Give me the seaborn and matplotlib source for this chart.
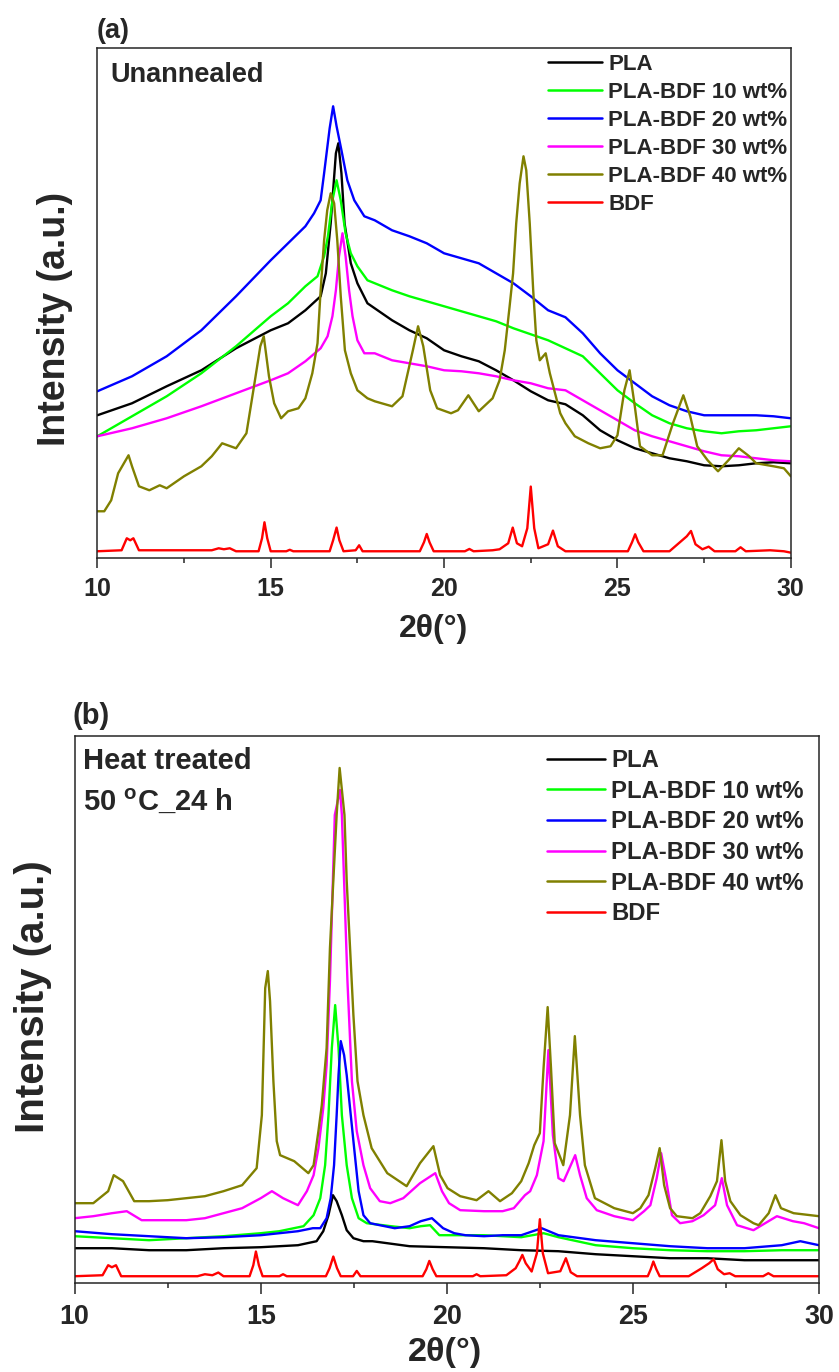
import pandas as pd
import matplotlib.pyplot as plt
import seaborn as sns
from matplotlib.ticker import MultipleLocator

# -----------------------------
# Data: (2theta in deg, intensity in a.u.)
# -----------------------------
labels = ["PLA", "PLA-BDF 10 wt%", "PLA-BDF 20 wt%", "PLA-BDF 30 wt%", "PLA-BDF 40 wt%", "BDF"]
colors = ["#000000", "#00ff00", "#0000ff", "#ff00ff", "#808000", "#ff0000"]

# (a) unannealed
a_pla = [(10, 143), (11, 155), (12, 172), (13, 188), (14, 210), (15, 228), (15.5, 235), (16, 248),
         (16.44, 262), (16.59, 285), (16.73, 335), (16.88, 405), (16.95, 415), (17.04, 385), (17.13, 335),
         (17.31, 295), (17.5, 275), (17.79, 255), (18.5, 238), (19, 228), (19.5, 220), (20, 208),
         (20.5, 202), (21, 197), (21.5, 188), (22, 178), (22.5, 167), (23, 158), (23.5, 154), (24, 143),
         (24.5, 128), (25, 118), (25.5, 110), (26, 105), (26.5, 100), (27, 97), (27.5, 93), (28, 92),
         (28.5, 93), (29, 95), (29.5, 96), (30, 95)]
a_10 = [(10, 122), (10.5, 132), (11, 142), (12, 162), (13, 185), (14, 212), (15, 242), (15.5, 255),
        (16, 272), (16.35, 282), (16.54, 302), (16.65, 322), (16.78, 358), (16.9, 378), (17.02, 358),
        (17.16, 325), (17.31, 305), (17.5, 292), (17.79, 278), (18.5, 268), (19, 262), (19.5, 257),
        (20, 252), (20.5, 247), (21, 242), (21.5, 237), (22, 230), (22.5, 224), (23, 218), (23.5, 210),
        (24, 202), (24.5, 185), (25, 168), (25.5, 155), (26, 143), (26.5, 135), (27, 130), (27.5, 127),
        (28, 125), (28.5, 127), (29, 128), (29.5, 130), (30, 132)]
a_20 = [(10, 167), (11, 182), (12, 202), (13, 228), (14, 262), (15, 298), (15.5, 315), (16, 332),
        (16.25, 345), (16.44, 358), (16.54, 385), (16.7, 430), (16.8, 452), (16.9, 432), (17.04, 408),
        (17.21, 378), (17.41, 358), (17.7, 342), (18, 338), (18.5, 328), (19, 322), (19.5, 315),
        (20, 305), (20.5, 300), (21, 295), (21.5, 285), (22, 275), (22.5, 262), (23, 248), (23.5, 241),
        (24, 225), (24.5, 205), (25, 188), (25.5, 175), (26, 162), (26.5, 153), (27, 147), (27.5, 143),
        (28, 143), (28.5, 143), (29, 143), (29.5, 142), (30, 140)]
a_30 = [(10, 122), (11, 130), (12, 140), (13, 152), (14, 165), (15, 178), (15.5, 185), (16, 197),
        (16.44, 210), (16.64, 222), (16.78, 242), (16.88, 268), (16.97, 302), (17.07, 325), (17.16, 302),
        (17.26, 268), (17.36, 242), (17.5, 218), (17.7, 205), (18, 205), (18.5, 198), (19, 195),
        (19.5, 192), (20, 188), (20.5, 187), (21, 185), (21.5, 182), (22, 178), (22.5, 175), (23, 170),
        (23.5, 168), (24, 158), (24.5, 148), (25, 138), (25.5, 128), (26, 122), (26.5, 117), (27, 112),
        (27.5, 107), (28, 103), (28.5, 102), (29, 100), (29.5, 98), (30, 97)]
a_40 = [(10, 47), (10.2, 47), (10.4, 58), (10.6, 85), (10.8, 97), (10.9, 103), (11.0, 92), (11.2, 72),
        (11.5, 68), (11.8, 73), (12.0, 70), (12.5, 82), (13.0, 92), (13.3, 102), (13.6, 115), (14.0, 110),
        (14.3, 125), (14.5, 168), (14.7, 212), (14.8, 222), (14.95, 182), (15.1, 155), (15.3, 140),
        (15.5, 147), (15.8, 150), (16.0, 160), (16.2, 185), (16.35, 215), (16.44, 268), (16.54, 318),
        (16.63, 348), (16.73, 365), (16.83, 355), (16.92, 318), (17.02, 262), (17.14, 208), (17.31, 185),
        (17.5, 168), (17.79, 160), (18.0, 157), (18.5, 152), (18.8, 162), (19.1, 208), (19.25, 232),
        (19.4, 212), (19.6, 168), (19.8, 150), (20.2, 145), (20.4, 148), (20.7, 163), (21.0, 147),
        (21.4, 160), (21.6, 178), (21.75, 208), (21.89, 252), (21.99, 285), (22.08, 335), (22.18, 375),
        (22.29, 402), (22.37, 388), (22.47, 335), (22.57, 268), (22.66, 218), (22.76, 198), (22.93, 205),
        (23.05, 185), (23.2, 165), (23.35, 145), (23.5, 135), (23.77, 122), (24.16, 115), (24.5, 110),
        (24.8, 112), (25.0, 123), (25.2, 168), (25.35, 188), (25.5, 152), (25.65, 112), (26.0, 103),
        (26.3, 103), (26.6, 135), (26.9, 163), (27.1, 142), (27.3, 112), (27.6, 98), (27.9, 87),
        (28.2, 98), (28.5, 110), (28.8, 102), (29.0, 95), (29.5, 92), (29.8, 90), (30.0, 82)]
a_bdf = [(10, 7), (10.7, 8), (10.85, 20), (10.95, 18), (11.04, 20), (11.2, 8), (13.3, 8), (13.5, 10),
         (13.65, 9), (13.82, 10), (14.0, 7), (14.65, 7), (14.75, 20), (14.82, 36), (14.9, 20), (15.0, 7),
         (15.45, 7), (15.55, 8.5), (15.65, 7), (16.7, 7), (16.8, 18), (16.9, 30.7), (16.98, 18),
         (17.1, 7), (17.45, 8), (17.55, 13), (17.65, 7), (19.3, 7), (19.42, 16), (19.5, 24.3),
         (19.58, 16), (19.7, 7), (20.6, 7), (20.73, 9.3), (20.85, 7), (21.4, 8), (21.6, 9), (21.85, 15),
         (21.98, 30.7), (22.1, 15), (22.25, 12), (22.4, 30), (22.5, 71.7), (22.6, 30), (22.72, 10),
         (23.0, 14), (23.14, 27.7), (23.28, 12), (23.5, 7), (25.3, 7), (25.42, 16), (25.51, 24),
         (25.6, 16), (25.75, 7), (26.5, 7), (26.8, 16), (27.0, 22), (27.12, 27.3), (27.25, 14),
         (27.45, 9), (27.63, 11.6), (27.8, 7), (28.4, 7), (28.55, 11), (28.7, 7), (29.4, 8), (29.8, 7),
         (30, 5.6)]

# (b) heat treated 50 C, 24 h
b_pla = [(10, 35), (11, 35), (12, 33), (13, 33), (14, 35), (15, 36), (16, 38), (16.5, 42), (16.68, 52),
         (16.82, 68), (16.94, 88), (17.04, 82), (17.18, 68), (17.31, 53), (17.49, 45), (17.76, 42),
         (18, 42), (19, 37), (20, 36), (21, 35), (22, 33), (23, 32), (24, 29), (25, 27), (26, 25),
         (27, 25), (28, 23), (29, 23), (30, 23)]
b_10 = [(10, 47), (11, 45), (12, 43), (13, 45), (14, 47), (15, 50), (15.5, 52), (16.15, 57), (16.42, 68),
        (16.6, 85), (16.73, 118), (16.82, 168), (16.91, 235), (17.0, 278), (17.09, 235), (17.18, 168),
        (17.31, 118), (17.45, 85), (17.63, 65), (17.85, 60), (18.5, 57), (19, 55), (19.3, 57),
        (19.55, 58), (19.8, 48), (20, 48), (21, 48), (22, 46), (22.6, 50), (23, 46), (24, 38), (25, 35),
        (26, 33), (27, 32), (28, 32), (29, 33), (30, 33)]
b_20 = [(10, 52), (11, 49), (12, 47), (13, 45), (14, 46), (15, 48), (15.5, 50), (16, 52), (16.4, 55),
        (16.6, 55), (16.77, 65), (16.88, 85), (16.97, 118), (17.04, 168), (17.09, 208), (17.15, 242),
        (17.24, 228), (17.31, 208), (17.4, 175), (17.51, 135), (17.63, 92), (17.76, 68), (17.94, 60),
        (18.2, 58), (18.6, 55), (19, 57), (19.3, 62), (19.6, 65), (19.9, 55), (20.2, 50), (20.5, 48),
        (21, 47), (21.5, 48), (22, 48), (22.55, 55), (23, 48), (24, 43), (25, 40), (26, 37), (27, 35),
        (28, 35), (29, 38), (29.5, 42), (30, 38)]
b_30 = [(10, 65), (10.5, 67), (11.0, 70), (11.4, 72), (11.8, 63), (12.5, 63), (13, 63), (13.5, 65),
        (14, 70), (14.5, 75), (15, 85), (15.3, 92), (15.6, 85), (16, 78), (16.24, 92), (16.42, 108),
        (16.55, 135), (16.68, 175), (16.77, 218), (16.86, 302), (16.99, 468), (17.13, 493), (17.18, 468),
        (17.24, 402), (17.33, 302), (17.45, 202), (17.58, 152), (17.76, 118), (17.94, 95), (18.2, 82),
        (18.48, 80), (18.83, 85), (19.28, 100), (19.69, 110), (19.87, 92), (20.06, 80), (20.36, 73),
        (21, 72), (21.5, 72), (21.8, 75), (22.1, 88), (22.24, 92), (22.42, 108), (22.6, 142),
        (22.73, 233), (22.85, 148), (23.0, 105), (23.14, 102), (23.45, 128), (23.58, 108), (23.76, 85),
        (24.03, 73), (24.5, 67), (25, 63), (25.3, 72), (25.47, 78), (25.64, 105), (25.76, 130),
        (25.9, 102), (26.05, 68), (26.27, 60), (26.6, 62), (26.9, 68), (27.21, 78), (27.39, 105),
        (27.53, 78), (27.8, 58), (28.24, 53), (28.87, 67), (29.3, 62), (29.6, 60), (30, 55)]
b_40 = [(10, 80), (10.5, 80), (10.9, 92), (11.05, 108), (11.3, 102), (11.6, 82), (12, 82), (12.5, 83),
        (13, 85), (13.5, 87), (14, 92), (14.5, 98), (14.89, 115), (15.03, 168), (15.12, 295),
        (15.19, 312), (15.25, 282), (15.34, 202), (15.43, 142), (15.52, 128), (15.9, 122), (16.28, 110),
        (16.42, 118), (16.55, 152), (16.64, 178), (16.77, 235), (16.86, 335), (16.95, 402), (17.04, 468),
        (17.12, 515), (17.25, 468), (17.31, 402), (17.4, 335), (17.49, 268), (17.6, 202), (17.76, 168),
        (17.98, 135), (18.4, 110), (18.92, 97), (19.28, 120), (19.64, 137), (19.82, 108), (20.02, 95),
        (20.36, 87), (20.8, 83), (21.12, 92), (21.43, 82), (21.75, 90), (22.0, 102), (22.2, 120),
        (22.35, 138), (22.5, 150), (22.6, 215), (22.71, 276), (22.8, 215), (22.9, 140), (23.13, 118),
        (23.31, 168), (23.44, 247), (23.58, 168), (23.71, 118), (23.98, 85), (24.5, 75), (25.0, 70),
        (25.2, 75), (25.42, 88), (25.6, 115), (25.72, 135), (25.84, 98), (26.0, 75), (26.18, 67),
        (26.6, 65), (26.81, 70), (27.08, 87), (27.26, 102), (27.38, 143), (27.48, 102), (27.62, 82),
        (27.89, 68), (28.24, 60), (28.38, 58), (28.65, 70), (28.83, 88), (28.98, 75), (29.32, 70),
        (30, 67)]
b_bdf = [(10, 7), (10.75, 8), (10.9, 18), (11.0, 16), (11.11, 18), (11.25, 7), (13.3, 7), (13.5, 9),
         (13.7, 8), (13.86, 10.7), (14.0, 7), (14.7, 7), (14.8, 18), (14.87, 31.7), (14.95, 18),
         (15.05, 7), (15.5, 7), (15.6, 9), (15.7, 7), (16.75, 7), (16.85, 15), (16.95, 26.7), (17.05, 15),
         (17.15, 7), (17.48, 7), (17.58, 12.3), (17.68, 7), (19.35, 7), (19.45, 14), (19.53, 22.3),
         (19.62, 14), (19.72, 7), (20.7, 7), (20.8, 9), (20.9, 7), (21.6, 8), (21.85, 15), (21.95, 22),
         (22.03, 28.3), (22.12, 20), (22.28, 11.7), (22.42, 30), (22.5, 64), (22.58, 30), (22.72, 10),
         (23.05, 12), (23.2, 25), (23.33, 11), (23.5, 7), (25.4, 7), (25.48, 14), (25.55, 21.7),
         (25.63, 14), (25.72, 7), (26.5, 7), (26.85, 15), (27.05, 20), (27.17, 24), (27.28, 14),
         (27.45, 9), (27.6, 10), (27.75, 7), (28.5, 7), (28.64, 10), (28.78, 7), (30, 7)]

panels = [
    dict(series=[a_pla, a_10, a_20, a_30, a_40, a_bdf], rect=[0.1160, 0.5931, 0.8266, 0.3717],
         ylim=510, s=1.0, tag="(a)", note=["Unannealed"]),
    dict(series=[b_pla, b_10, b_20, b_30, b_40, b_bdf], rect=[0.0890, 0.0647, 0.8871, 0.3989],
         ylim=547, s=1.074, tag="(b)", note=["Heat treated", "50 $^{\\mathbf{o}}$C_24 h"]),
]

# -----------------------------
# Style
# -----------------------------
sns.set_style("ticks")
plt.rcParams["font.family"] = ["Liberation Sans", "DejaVu Sans"]
plt.rcParams["font.weight"] = "bold"
plt.rcParams["mathtext.fontset"] = "custom"
plt.rcParams["mathtext.rm"] = "Liberation Sans:bold"
plt.rcParams["mathtext.bf"] = "Liberation Sans:bold"

W, H = 839, 1372
fig = plt.figure(figsize=(W / 100, H / 100), dpi=100)

# pixel positions of the text pieces, per panel
text_px = [
    dict(tag=(97, 37.5), note=[(110, 82)], ylab=(55, 318.5), xlab=(433, 629), leg=(548, 53.5)),
    dict(tag=(72.7, 724), note=[(82.7, 769.5), (82.7, 810)], ylab=(33, 997), xlab=(445, 1352), leg=(547, 749)),
]

for p, tp in zip(panels, text_px):
    s = p["s"]
    ax = fig.add_axes(p["rect"])
    frames = []
    for lab, pts in zip(labels, p["series"]):
        d = pd.DataFrame(pts, columns=["two_theta", "intensity"])
        d["sample"] = lab
        frames.append(d)
    df = pd.concat(frames, ignore_index=True)
    sns.lineplot(data=df, x="two_theta", y="intensity", hue="sample", hue_order=labels,
                 palette=colors, estimator=None, linewidth=1.7, ax=ax)

    ax.set_xlim(10, 30)
    ax.set_ylim(0, p["ylim"])
    ax.set_yticks([])
    ax.set_xticks([10, 15, 20, 25, 30])
    ax.xaxis.set_minor_locator(MultipleLocator(2.5))
    ax.tick_params(axis="x", which="major", direction="out", length=7.2 * s, width=1.1,
                   labelsize=18 * s, pad=6.5 * s)
    ax.tick_params(axis="x", which="minor", direction="out", length=3.6 * s, width=1.1)
    for lbl in ax.get_xticklabels():
        lbl.set_fontweight("bold")
    for sp in ax.spines.values():
        sp.set_linewidth(1.1)
        sp.set_visible(True)
    ax.set_xlabel("")
    ax.set_ylabel("")

    handles, labs = ax.get_legend_handles_labels()
    leg = ax.legend(handles, labs, loc="upper left", frameon=False,
                    bbox_to_anchor=(tp["leg"][0] / W, 1 - tp["leg"][1] / H), bbox_transform=fig.transFigure,
                    borderpad=0, borderaxespad=0, handlelength=2.43, handletextpad=0.27,
                    labelspacing=0.32, prop=dict(size=16 * s, weight="bold"))
    for ln in leg.get_lines():
        ln.set_linewidth(1.8)

    fig.text(tp["tag"][0] / W, 1 - tp["tag"][1] / H, p["tag"], fontsize=19.5 * s,
             fontweight="bold", ha="left", va="baseline")
    for txt, pos in zip(p["note"], tp["note"]):
        fig.text(pos[0] / W, 1 - pos[1] / H, txt, fontsize=19.5 * s, fontweight="bold",
                 ha="left", va="baseline")
    fig.text(tp["ylab"][0] / W, 1 - tp["ylab"][1] / H, "Intensity (a.u.)", rotation=90,
             fontsize=27 * s, fontweight="bold", ha="center", va="center")
    fig.text(tp["xlab"][0] / W, 1 - tp["xlab"][1] / H, "2θ(°)", fontsize=23 * s,
             fontweight="bold", ha="center", va="center")

fig.savefig("out.png", dpi=100)
